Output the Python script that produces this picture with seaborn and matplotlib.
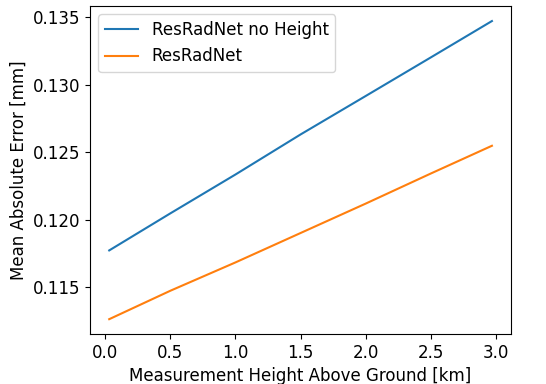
import matplotlib
matplotlib.use("Agg")
import matplotlib.pyplot as plt
import pandas as pd
import seaborn as sns

heights_km = [0.03, 0.5, 1.0, 1.5, 2.0, 2.5, 2.97]
mae_no_height = [0.11772, 0.12047, 0.12335, 0.12632, 0.12917, 0.13203, 0.13473]
mae_resradnet = [0.11262, 0.11473, 0.11683, 0.11901, 0.12119, 0.12342, 0.12548]
model_names = ["ResRadNet no Height", "ResRadNet"]

df = pd.DataFrame({
    "height": heights_km * 2,
    "mae": mae_no_height + mae_resradnet,
    "model": [model_names[0]] * len(heights_km) + [model_names[1]] * len(heights_km),
})

plt.rcParams["font.size"] = 12
fig, ax = plt.subplots(figsize=(5.46, 3.84), dpi=100)
sns.lineplot(data=df, x="height", y="mae", hue="model", hue_order=model_names,
             palette=["#1f77b4", "#ff7f0e"], ax=ax)
ax.set_xlabel("Measurement Height Above Ground [km]")
ax.set_ylabel("Mean Absolute Error [mm]")
ax.set_yticks([0.115, 0.120, 0.125, 0.130, 0.135])
ax.legend(title=None, loc="upper left")
fig.subplots_adjust(left=0.165, right=0.936, top=0.984, bottom=0.13)
fig.savefig("out.png", dpi=100)
plt.close(fig)
